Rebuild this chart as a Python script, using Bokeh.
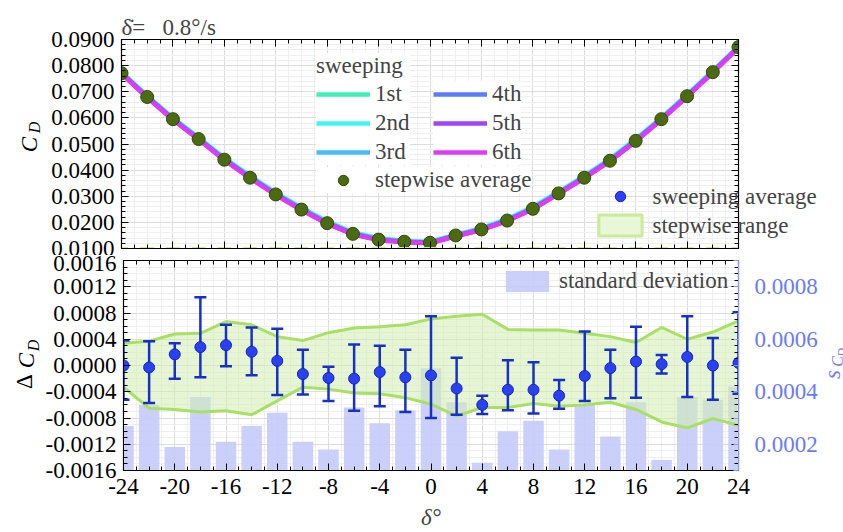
import math
from bokeh.plotting import figure
from bokeh.models import (ColumnDataSource, LinearAxis, Range1d, FixedTicker,
                          NumeralTickFormatter, Legend, LegendItem, Label, Title)
from bokeh.layouts import column, row
from bokeh.embed import file_html
from bokeh.resources import INLINE

FONT = "Liberation Serif"
FS = "23px"

# ---------------- data ----------------
delta = [-24, -22, -20, -18, -16, -14, -12, -10, -8, -6, -4, -2, 0,
         2, 4, 6, 8, 10, 12, 14, 16, 18, 20, 22, 24]

delta_ticks = [-24, -20, -16, -12, -8, -4, 0, 4, 8, 12, 16, 20, 24]
cd_ticks = [0.01, 0.02, 0.03, 0.04, 0.05, 0.06, 0.07, 0.08, 0.09]
dcd_ticks = [-0.0016, -0.0012, -0.0008, -0.0004, 0.0, 0.0004, 0.0008, 0.0012, 0.0016]
sd_ticks = [0.0002, 0.0004, 0.0006, 0.0008]

stepwise_avg = [0.0771, 0.0680, 0.0595, 0.0519, 0.0440, 0.0371, 0.0307, 0.0249, 0.0197,
                0.0156, 0.0134, 0.0126, 0.0122, 0.0150, 0.0173, 0.0207, 0.0252, 0.0311,
                0.0371, 0.0436, 0.0512, 0.0595, 0.0683, 0.0775, 0.0871]

sweep_labels = ["1st", "2nd", "3rd", "4th", "5th", "6th"]
sweep_colors = ["#3ef0b4", "#3ef8f0", "#45bdfd", "#5c7cfb", "#9f45f9", "#dc3cf5"]
sweep1 = [0.0773, 0.0683, 0.0598, 0.0522, 0.0444, 0.0375, 0.0311, 0.0253, 0.0201, 0.0160, 0.0137, 0.0128, 0.0124,
          0.0150, 0.0175, 0.0210, 0.0256, 0.0314, 0.0375, 0.0440, 0.0516, 0.0598, 0.0686, 0.0778, 0.0873]
sweep2 = [0.0775, 0.0685, 0.0600, 0.0525, 0.0447, 0.0378, 0.0314, 0.0256, 0.0204, 0.0162, 0.0139, 0.0130, 0.0126,
          0.0153, 0.0178, 0.0213, 0.0259, 0.0317, 0.0378, 0.0443, 0.0519, 0.0601, 0.0689, 0.0780, 0.0874]
sweep3 = [0.0772, 0.0682, 0.0597, 0.0521, 0.0443, 0.0374, 0.0310, 0.0252, 0.0200, 0.0159, 0.0136, 0.0127, 0.0123,
          0.0151, 0.0175, 0.0210, 0.0255, 0.0314, 0.0374, 0.0439, 0.0515, 0.0598, 0.0686, 0.0777, 0.0872]
sweep4 = [0.0771, 0.0680, 0.0596, 0.0520, 0.0441, 0.0372, 0.0308, 0.0250, 0.0198, 0.0157, 0.0134, 0.0126, 0.0122,
          0.0149, 0.0173, 0.0208, 0.0253, 0.0312, 0.0372, 0.0437, 0.0513, 0.0596, 0.0684, 0.0775, 0.0871]
sweep5 = [0.0770, 0.0679, 0.0594, 0.0518, 0.0440, 0.0370, 0.0306, 0.0248, 0.0196, 0.0155, 0.0133, 0.0125, 0.0121,
          0.0148, 0.0172, 0.0206, 0.0251, 0.0310, 0.0370, 0.0435, 0.0511, 0.0594, 0.0682, 0.0774, 0.0870]
sweep6 = [0.0769, 0.0678, 0.0593, 0.0517, 0.0438, 0.0369, 0.0305, 0.0247, 0.0195, 0.0154, 0.0132, 0.0124, 0.0120,
          0.0147, 0.0171, 0.0205, 0.0250, 0.0309, 0.0369, 0.0434, 0.0510, 0.0593, 0.0681, 0.0773, 0.0869]
sweeps = [sweep1, sweep2, sweep3, sweep4, sweep5, sweep6]

sweep_avg_d = [0.0000, -0.00003, 0.00017, 0.00028, 0.00031, 0.00021, 0.00007, -0.00013, -0.00019,
               -0.00020, -0.00010, -0.00018, -0.00015, -0.00035, -0.00060, -0.00037, -0.00037,
               -0.00046, -0.00016, -0.00004, 0.00006, 0.00002, 0.00013, 0.00000, 0.00004]
err_hi = [0.00038, 0.00037, 0.00034, 0.00104, 0.00062, 0.00058, 0.00056, 0.00024, -0.00002,
          0.00032, 0.00030, 0.00024, 0.00075, 0.00012, -0.00046, 0.00008, 0.00005, -0.00022,
          0.00052, 0.00024, 0.00059, 0.00016, 0.00075, 0.00042, 0.00081]
err_lo = [-0.00052, -0.00057, -0.00020, -0.00018, -0.00001, -0.00015, -0.00045, -0.00044, -0.00054,
          -0.00069, -0.00062, -0.00071, -0.00080, -0.00075, -0.00074, -0.00068, -0.00073, -0.00066,
          -0.00054, -0.00050, -0.00049, -0.00012, -0.00048, -0.00052, -0.00043]
range_hi = [0.00034, 0.00037, 0.00048, 0.00049, 0.00067, 0.00062, 0.00044, 0.00038, 0.00050,
            0.00057, 0.00059, 0.00062, 0.00071, 0.00075, 0.00078, 0.00055, 0.00054, 0.00054,
            0.00049, 0.00044, 0.00035, 0.00058, 0.00040, 0.00051, 0.00068]
range_lo = [-0.00033, -0.00065, -0.00067, -0.00071, -0.00069, -0.00075, -0.00054, -0.00033, -0.00036,
            -0.00042, -0.00043, -0.00049, -0.00059, -0.00077, -0.00064, -0.00064, -0.00058, -0.00062,
            -0.00060, -0.00056, -0.00067, -0.00086, -0.00095, -0.00081, -0.00091]
std_dev = [0.00027, 0.00035, 0.00019, 0.00038, 0.00021, 0.00027, 0.00032, 0.00021, 0.00018,
           0.00034, 0.00028, 0.00033, 0.00049, 0.00036, 0.00013, 0.00025, 0.00029, 0.00018,
           0.00035, 0.00023, 0.00036, 0.00014, 0.00038, 0.00037, 0.00042]

# ---------------- styling helpers ----------------
LW = 42          # width of the left label strip
RW = 20          # width of the right label strip (lower panel)
GREEN_PT = "#4a6b12"
BLUE_PT = "#2a40f5"
EB = "#1730c8"
BAND_LINE = "#a8e063"
BAND_FILL = "#d2efb0"
BAR = "#c5cbfa"
SD_AXIS = "#8a98ff"
SD_TEXT = "#6a7aff"

delta_minor = list(range(-24, 25))
cd_minor = [round(0.01 + 0.002 * i, 4) for i in range(41)]
dcd_minor = [round(-0.0016 + 0.0001 * i, 5) for i in range(33)]
sd_minor = [0.0001, 0.0003, 0.0005, 0.0007, 0.0009]


def make_axis(ticks, minor, show=True, fmt=None, color="black", standoff=7,
              tick_in=7, minor_in=4, range_name=None):
    ax = LinearAxis(ticker=FixedTicker(ticks=ticks, minor_ticks=minor))
    if range_name:
        ax.y_range_name = range_name
    ax.major_tick_in = tick_in
    ax.major_tick_out = 0
    ax.minor_tick_in = minor_in
    ax.minor_tick_out = 0
    ax.axis_line_color = color
    ax.major_tick_line_color = color
    ax.minor_tick_line_color = color
    ax.major_label_text_font = FONT
    ax.major_label_standoff = standoff
    if show:
        ax.major_label_text_font_size = FS
        ax.major_label_text_color = color
    else:
        ax.major_label_text_font_size = "1px"
        ax.major_label_text_color = None
    if fmt:
        ax.formatter = NumeralTickFormatter(format=fmt)
    return ax


def style_grid(p, xt, yt):
    p.xgrid.ticker = xt
    p.ygrid.ticker = yt
    for g in (p.xgrid, p.ygrid):
        g.grid_line_color = "#dcdcdc"
        g.grid_line_width = 1
        g.minor_grid_line_color = "#efefef"
        g.minor_grid_line_width = 1


def make_legend(items, loc, title=None, white=False, padding=0):
    lg = Legend(items=items, location=loc, orientation="vertical")
    lg.label_text_font = FONT
    lg.label_text_font_size = FS
    lg.glyph_width = 54
    lg.glyph_height = 26
    lg.label_height = 26
    lg.spacing = 3
    lg.padding = padding
    lg.margin = 0
    lg.label_standoff = 5
    lg.border_line_color = None
    lg.background_fill_color = "white"
    lg.background_fill_alpha = 1 if white else 0
    if title:
        lg.title = title
        lg.title_text_font = FONT
        lg.title_text_font_size = FS
        lg.title_text_font_style = "normal"
        lg.title_standoff = 2
    return lg


def label_strip(w, h):
    f = figure(width=w, height=h, x_range=Range1d(0, 1), y_range=Range1d(0, 1),
               x_axis_location=None, y_axis_location=None, output_backend="svg",
               toolbar_location=None, min_border=0)
    f.outline_line_color = None
    f.xgrid.visible = False
    f.ygrid.visible = False
    return f


def lab(p, x, y, text, size=FS, style="italic", color="black", angle=math.pi / 2):
    # x, y: screen px from the strip's left edge / from its frame bottom
    p.add_layout(Label(x=x, y=y, x_units="screen", y_units="screen", text=text,
                       text_font=FONT, text_font_size=size, text_font_style=style,
                       text_color=color, angle=angle, text_align="center",
                       text_baseline="middle"))


# ---------------- top panel ----------------
H1 = 255
p1 = figure(width=843 - LW, height=H1, x_range=Range1d(-24, 24), y_range=Range1d(0.01, 0.09),
            x_axis_location=None, y_axis_location=None,
            output_backend="svg", toolbar_location=None,
            min_border_left=121 - LW, min_border_right=105, min_border_top=39,
            min_border_bottom=H1 - 248)
p1.title = Title(text="\u03b4\u0307=\u2002 0.8\u00b0/s", align="left", text_font=FONT,
                 text_font_size=FS, text_font_style="normal", standoff=0)
p1.outline_line_color = "black"
p1.outline_line_width = 1.2
style_grid(p1, FixedTicker(ticks=delta_ticks, minor_ticks=delta_minor),
           FixedTicker(ticks=cd_ticks, minor_ticks=cd_minor))

p1.add_layout(make_axis(cd_ticks, cd_minor, fmt="0.0000"), "left")
p1.add_layout(make_axis(cd_ticks, cd_minor, show=False, standoff=0), "right")
p1.add_layout(make_axis(delta_ticks, delta_minor, show=False, standoff=0), "above")
p1.add_layout(make_axis(delta_ticks, delta_minor, show=False, standoff=0), "below")

sweep_r = []
for ys, c in zip(sweeps, sweep_colors):
    sweep_r.append(p1.line(delta, ys, line_color=c, line_width=4.5))

src_avg = ColumnDataSource(dict(x=delta, y=stepwise_avg))
r_avg = p1.scatter("x", "y", source=src_avg, size=13, fill_color=GREEN_PT,
                   line_color="#2f4a0a", line_width=1)

# the lower-panel series, also given to the upper panel (they fall outside its range,
# so only their legend swatches show there)
src_sw = ColumnDataSource(dict(x=delta, y=sweep_avg_d, hi=err_hi, lo=err_lo))
src_rng = ColumnDataSource(dict(x=delta, lo=range_lo, hi=range_hi))
r_sw_leg = p1.scatter("x", "y", source=src_sw, size=11, fill_color=BLUE_PT, line_color="#1428b0")
r_rng_leg = p1.vbar(x="x", bottom="lo", top="hi", width=1, source=src_rng, fill_color="#e8f7d8",
                    line_color="#c8ec98", line_width=3)

p1.add_layout(make_legend([LegendItem(label=sweep_labels[i], renderers=[sweep_r[i]]) for i in range(3)],
                          (195, 83), title="sweeping", white=True, padding=4))
p1.add_layout(make_legend([LegendItem(label=sweep_labels[i], renderers=[sweep_r[i]]) for i in range(3, 6)],
                          (312, 83), white=True, padding=4))
p1.add_layout(make_legend([LegendItem(label="stepwise average", renderers=[r_avg])],
                          (195, 55), white=True, padding=4))
# swatches of the second legend (its texts run past the frame, see axis below)
p1.add_layout(make_legend([LegendItem(label=" ", renderers=[r_sw_leg]),
                           LegendItem(label=" ", renderers=[r_rng_leg])],
                          (472, 10)))

# texts of the second legend, written by a tick-less axis so they can cross the frame edge
leg_y = [0.01 + (248 - 196) / 209 * 0.08, 0.01 + (248 - 225) / 209 * 0.08]
leg_ax = LinearAxis(ticker=FixedTicker(ticks=leg_y, minor_ticks=[]))
leg_ax.major_label_overrides = {leg_y[0]: "sweeping average", leg_y[1]: "stepwise range"}
leg_ax.axis_line_color = None
leg_ax.major_tick_line_color = None
leg_ax.minor_tick_line_color = None
leg_ax.major_tick_in = 0
leg_ax.major_tick_out = 0
leg_ax.major_label_text_font = FONT
leg_ax.major_label_text_font_size = FS
leg_ax.major_label_standoff = -86
p1.add_layout(leg_ax, "right")

# frame of this strip is aligned with p1's frame (bottom at page y 248)
lab1 = label_strip(LW, H1)
lab(lab1, 28.5, 248 - 144, "C")
lab(lab1, 34, 248 - 127, "D", size="16px")

# ---------------- bottom panel ----------------
H2 = 532 - H1
p2 = figure(width=843 - LW - RW, height=H2, x_range=p1.x_range, y_range=Range1d(-0.0016, 0.0016),
            x_axis_location=None, y_axis_location=None,
            output_backend="svg", toolbar_location=None,
            min_border_left=121 - LW, min_border_right=843 - RW - 738,
            min_border_top=260 - H1, min_border_bottom=62)
p2.extra_y_ranges = {"sd": Range1d(0.0001, 0.0009)}
p2.outline_line_color = "black"
p2.outline_line_width = 1.2
style_grid(p2, FixedTicker(ticks=delta_ticks, minor_ticks=delta_minor),
           FixedTicker(ticks=dcd_ticks, minor_ticks=dcd_minor))

p2.add_layout(make_axis(dcd_ticks, dcd_minor, fmt="0.0000"), "left")
p2.add_layout(make_axis(dcd_ticks, dcd_minor, show=False, standoff=0), "right")
sd_ax = make_axis(sd_ticks, sd_minor, fmt="0.0000", color=SD_AXIS, standoff=16, tick_in=5,
                  minor_in=5, range_name="sd")
sd_ax.major_label_text_color = SD_TEXT
p2.add_layout(sd_ax, "right")
p2.add_layout(make_axis(delta_ticks, delta_minor, show=False, standoff=0), "above")
x_ax = make_axis(delta_ticks, delta_minor, fmt="0", standoff=8)
x_ax.axis_label = "\u03b4\u00b0"
x_ax.axis_label_text_font = FONT
x_ax.axis_label_text_font_size = FS
x_ax.axis_label_text_font_style = "italic"
x_ax.axis_label_standoff = 8
p2.add_layout(x_ax, "below")

src_sd = ColumnDataSource(dict(x=delta, top=std_dev))
r_bar = p2.vbar(x="x", top="top", bottom=0, width=1.6, source=src_sd, y_range_name="sd",
                fill_color=BAR, line_color=None, fill_alpha=0.9)

p2.varea(x="x", y1="lo", y2="hi", source=src_rng, fill_color=BAND_FILL, fill_alpha=0.55)
p2.line("x", "hi", source=src_rng, line_color=BAND_LINE, line_width=3)
p2.line("x", "lo", source=src_rng, line_color=BAND_LINE, line_width=3)

p2.segment(x0="x", y0="lo", x1="x", y1="hi", source=src_sw, line_color=EB, line_width=2.5)
p2.scatter("x", "hi", source=src_sw, marker="dash", size=12, line_color=EB, line_width=2.5)
p2.scatter("x", "lo", source=src_sw, marker="dash", size=12, line_color=EB, line_width=2.5)
p2.scatter("x", "y", source=src_sw, size=11, fill_color=BLUE_PT, line_color="#1428b0", line_width=1)

p2.add_layout(make_legend([LegendItem(label="standard deviation", renderers=[r_bar])], (377, 176)))

# strips aligned with p2's frame (bottom at page y 470)
lab2 = label_strip(LW, H2)
lab(lab2, 24, 470 - 381, "\u0394", style="normal")
lab(lab2, 26, 470 - 360, "C")
lab(lab2, 33, 470 - 345, "D", size="16px")

lab3 = label_strip(RW, H2)
lab(lab3, 9, 470 - 374, "s", color=SD_TEXT)
lab(lab3, 14, 470 - 361, "C", size="16px", color=SD_TEXT)
lab(lab3, 18, 470 - 352, "D", size="12px", color=SD_TEXT)

layout = column(row(lab1, p1, spacing=0), row(lab2, p2, lab3, spacing=0), spacing=0)
open("out.html", "w").write(file_html(layout, INLINE))
